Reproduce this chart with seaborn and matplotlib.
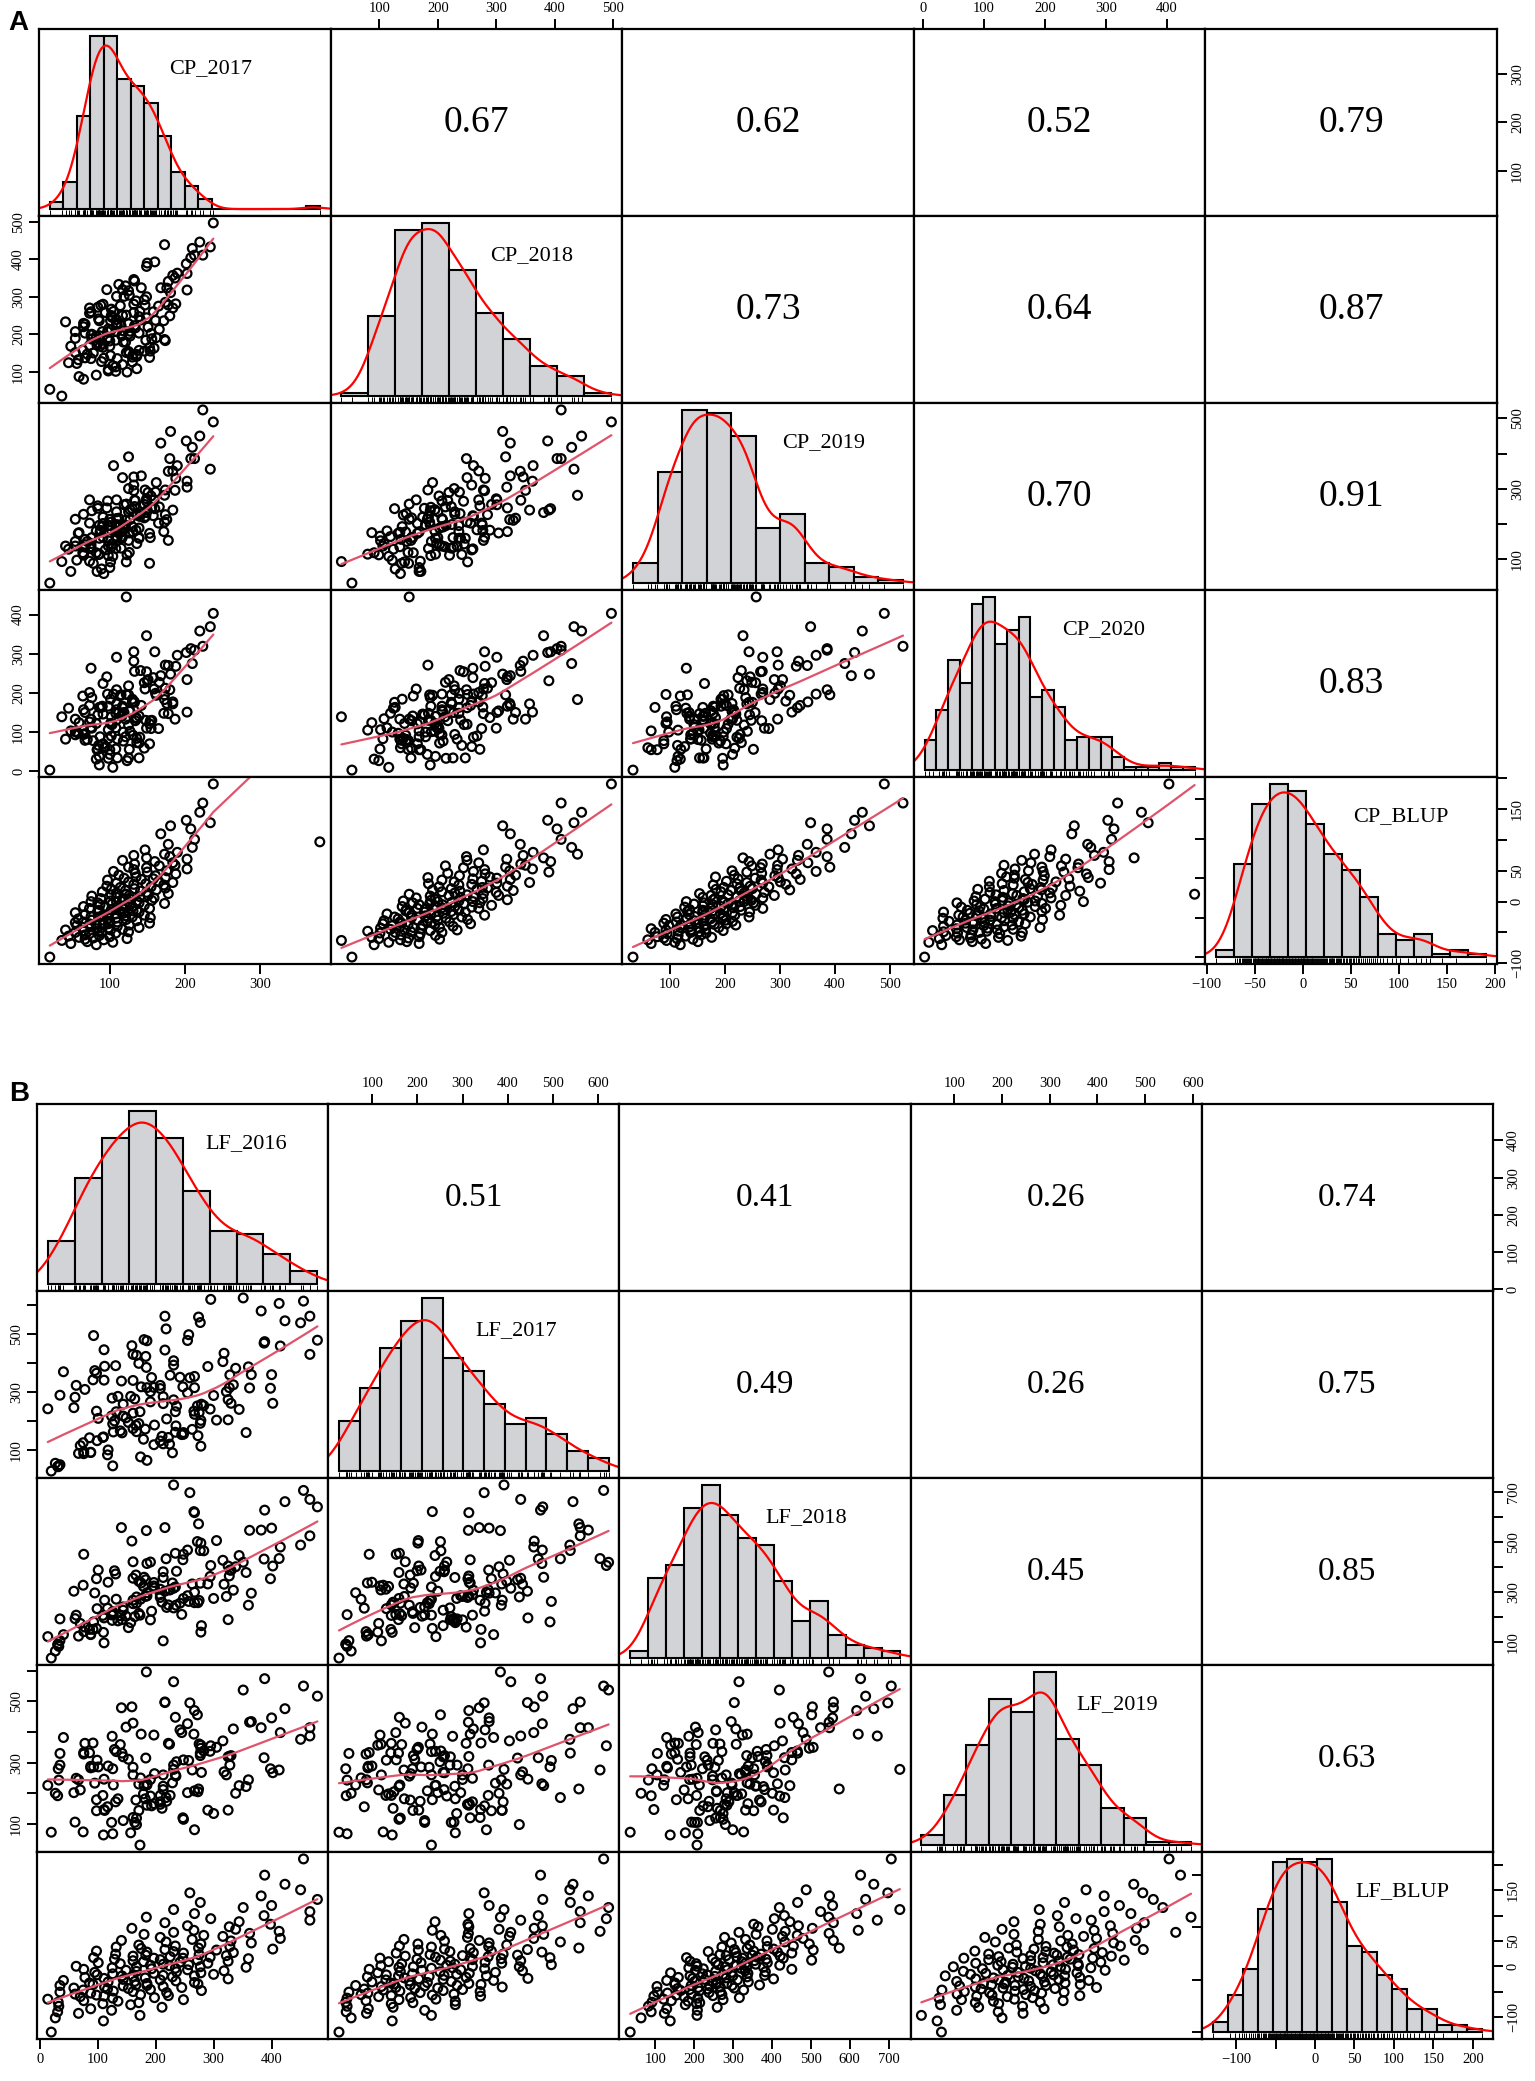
import numpy as np
import pandas as pd
import matplotlib
matplotlib.use("Agg")
import matplotlib.pyplot as plt
import seaborn as sns

sns.set_theme(style="white")
plt.rcParams["font.family"] = ["Liberation Serif", "DejaVu Serif"]
plt.rcParams["xtick.color"] = "black"
plt.rcParams["ytick.color"] = "black"
plt.rcParams["text.color"] = "black"
nan = np.nan

# ============================================================
# Panel A  - CP traits (values read off the scatter clouds)
# ============================================================
A_names = ["CP_2017", "CP_2018", "CP_2019", "CP_2020", "CP_BLUP"]
A_corr = [0.67, 0.62, 0.52, 0.79, 0.73, 0.64, 0.87, 0.70, 0.91, 0.83]

A_BLUP = [-90,
    -70, -68, -66, -65, -63, -62, -61, -60, -59, -58, -57, -56, -55, -54,
    -52, -51, -50, -50, -49, -48, -47, -46, -46, -45, -44, -43, -42, -42, -41, -40, -39, -38, -38, -37, -36, -36, -35, -34,
    -33, -33, -32, -31, -30, -30, -29, -28, -27, -27, -26, -25, -25, -24, -23, -22, -22, -21, -20, -20, -19, -18, -17, -17, -16, -15,
    -14, -14, -13, -12, -11, -11, -10, -9, -8, -8, -7, -6, -5, -5, -4, -3, -2, -2, -1, 0, 0, 1, 1, 2, 3,
    4, 5, 6, 7, 8, 9, 10, 10, 11, 12, 13, 14, 15, 16, 17, 18, 19, 20, 21, 22,
    23, 24, 25, 27, 28, 29, 30, 31, 32, 33, 35, 36, 37, 38, 39, 40,
    42, 43, 45, 46, 48, 49, 50, 52, 53, 55, 56, 58, 59,
    61, 63, 65, 67, 69, 71, 73, 75, 77,
    80, 84, 88, 93, 101, 110, 118, 123, 128, 132, 145, 160, 191,
    97]
A_2017 = [20,
    82, 48, 104, 70, 36, 92, 67, 123, 78, 59, 100, 45, 86, 67,
    73, 108, 54, 89, 125, 65, 86, 101, 41, 117, 83, 98, 64, 139, 75, 110, 56, 91, 126, 82, 98, 73, 153, 54,
    110, 65, 100, 136, 76, 91, 122, 58, 108, 98, 154, 85, 130, 75, 121, 91, 146, 67, 108, 98, 118, 54, 139, 84, 115, 131,
    86, 136, 102, 118, 73, 153, 109, 94, 130, 65, 116, 146, 87, 127, 103, 173, 84, 139, 109, 125, 75, 136, 101, 156, 117,
    127, 88, 159, 109, 140, 76, 126, 151, 102, 122, 178, 109, 149, 90, 141, 121, 162, 102, 133, 174,
    114, 155, 96, 172, 132, 148, 109, 184, 125, 165, 97, 142, 158, 119, 174, 135,
    161, 112, 188, 134, 150, 105, 176, 132, 203, 149, 125, 166, 187,
    133, 184, 160, 117, 203, 149, 180, 132, 173,
    190, 147, 210, 178, 213, 168, 208, 181, 234, 202, 220, 224, 238,
    380]
A_2018 = [53,
    91, 168, 116, 147, 35, 136, 203, 99, 150, 87, 168, 124, 196, 137,
    170, 101, 207, 127, 154, 80, 187, 143, 233, 119, 171, 102, 158, 203, 135, 226, 122, 174, 149, 195, 106, 256, 138, 189,
    135, 220, 182, 108, 200, 165, 251, 132, 184, 214, 155, 241, 126, 198, 179, 280, 155, 227, 113, 188, 209, 151, 247, 177, 223, 145,
    236, 146, 212, 179, 270, 165, 207, 258, 139, 229, 196, 292, 168, 208, 245, 186, 272, 157, 224, 200, 260, 141, 236, 188, 319,
    195, 277, 163, 239, 261, 187, 304, 219, 250, 151, 278, 229, 300, 207, 238, 329, 191, 267, 223, 285,
    276, 202, 319, 236, 258, 184, 301, 357, 228, 275, 207, 324, 260, 301, 183, 289,
    237, 333, 281, 217, 390, 261, 323, 280, 362, 244, 316, 213, 350,
    342, 270, 393, 250, 318, 381, 249, 346, 439,
    363, 278, 429, 341, 411, 324, 404, 311, 433, 388, 446, 411, 497,
    nan]
A_2019 = [33,
    119, 66, 109, 151, 94, 60, 142, 113, 89, 176, 77, 129, 115, 157,
    95, 166, 138, 73, 154, 115, 197, 93, 138, 165, 66, 153, 119, 189, 136, 162, 98, 220, 120, 181, 138, 203, 89, 151,
    177, 112, 214, 145, 162, 202, 93, 174, 131, 196, 162, 114, 244, 145, 197, 163, 218, 135, 181, 111, 192, 214, 160, 245, 132, 178,
    160, 230, 136, 198, 269, 174, 216, 127, 193, 228, 160, 256, 178, 213, 144, 206, 252, 162, 199, 235, 130, 226, 196, 248, 179,
    241, 182, 269, 160, 222, 238, 175, 290, 206, 257, 154, 235, 272, 193, 230, 211, 318, 184, 250, 227,
    198, 280, 246, 179, 311, 222, 269, 240, 301, 203, 266, 337, 224, 255, 297, 183,
    291, 217, 330, 267, 240, 366, 213, 295, 322, 265, 391, 249, 296,
    268, 351, 244, 332, 305, 233, 386, 334, 282,
    366, 297, 418, 350, 386, 430, 386, 463, 356, 436, 450, 524, 490,
    nan]
A_2020 = [3,
    31, 103, 10, 81, 139, 60, 96, 27, 78, 124, 55, 161, 38, 79,
    126, 57, 93, 163, 34, 105, 16, 122, 82, 148, 55, 106, 192, 72, 133, 34, 100, 146, 56, 122, 83, 168, 70, 101,
    82, 157, 43, 134, 110, 70, 196, 97, 148, 33, 129, 66, 176, 112, 88, 224, 59, 150, 111, 166, 77, 133, 34, 144, 195, 92,
    163, 73, 139, 100, 201, 121, 157, 63, 184, 94, 140, 226, 88, 153, 119, 195, 56, 141, 172, 118, 263, 84, 184, 130, 166,
    102, 164, 210, 131, 87, 188, 154, 234, 120, 445, 147, 208, 110, 166, 257, 133, 194, 90, 176, 212,
    193, 109, 241, 148, 179, 130, 291, 172, 218, 109, 197, 168, 239, 150, 271, 137,
    199, 150, 268, 129, 231, 197, 173, 305, 151, 254, 195, 227, 133,
    255, 177, 305, 162, 234, 346, 208, 281, 183,
    296, 210, 275, 270, 309, 244, 313, 248, 369, 303, 358, 319, 403,
    nan]

# histogram bar heights on the diagonal (equal-width bins over each trait's range)
A_hist_2017 = [2, 8, 28, 52, 52, 39, 37, 32, 22, 11, 7, 3, 0, 0, 0, 0, 0, 0, 0, 1]
A_hist_2018 = [1, 24, 50, 52, 38, 25, 17, 9, 6, 1]
A_hist_2019 = [6, 34, 53, 52, 45, 17, 21, 6, 5, 2, 1]
A_hist_2020 = [9, 18, 33, 26, 50, 52, 38, 42, 46, 22, 24, 19, 9, 10, 10, 10, 4, 1, 1, 1, 2, 1, 1]
A_hist_BLUP = [2, 28, 46, 52, 50, 40, 31, 26, 18, 7, 5, 7, 1, 2, 1]

A_ticks = [[100, 200, 300], [100, 200, 300, 400, 500], [100, 200, 300, 400, 500],
           [0, 100, 200, 300, 400], [-100, -50, 0, 50, 100, 150, 200]]

# ============================================================
# Panel B  - LF traits
# ============================================================
B_names = ["LF_2016", "LF_2017", "LF_2018", "LF_2019", "LF_BLUP"]
B_corr = [0.51, 0.41, 0.26, 0.74, 0.49, 0.26, 0.75, 0.45, 0.85, 0.63]

B_BLUP = [-130,
    -108, -102, -97, -93,
    -90, -87, -84, -81, -79, -76, -74,
    -72, -71, -69, -68, -66, -65, -63, -62, -60, -59, -58, -57, -56, -55,
    -53, -52, -51, -50, -49, -48, -47, -46, -45, -44, -43, -42, -41, -40, -39, -38, -38, -37, -36, -35,
    -34, -33, -32, -31, -30, -29, -28, -27, -26, -25, -24, -23, -22, -21, -20, -19, -19, -18, -17, -16,
    -15, -14, -13, -12, -11, -10, -9, -8, -7, -6, -5, -4, -3, -2, -1, -1, 0, 1, 2, 3,
    4, 5, 6, 7, 8, 9, 10, 11, 12, 13, 14, 15, 16, 16, 17, 18, 19, 20, 21, 22,
    23, 24, 26, 27, 28, 29, 30, 32, 33, 34, 35, 36, 38, 39, 40,
    42, 44, 46, 48, 50, 51, 53, 55, 57, 59,
    61, 63, 65, 67, 69, 71, 73, 75, 78,
    80, 83, 86, 88, 91, 94, 97,
    100, 104, 108, 112, 116, 120, 126, 132, 139, 145, 151, 162, 180, 212]
B_2016 = [20,
    110, 27, 173, 67,
    31, 124, 88, 211, 33, 157, 109,
    171, 32, 135, 76, 248, 14, 126, 198, 70, 111, 222, 98, 174, 61,
    88, 219, 35, 161, 127, 279, 75, 191, 117, 153, 59, 245, 112, 213, 144, 185, 35, 166, 92, 273,
    185, 86, 267, 118, 164, 235, 41, 208, 144, 325, 111, 182, 78, 229, 161, 267, 142, 213, 99, 300,
    126, 197, 278, 95, 236, 167, 318, 149, 255, 76, 193, 234, 125, 356, 167, 277, 63, 224, 191, 257,
    213, 139, 290, 101, 242, 179, 325, 161, 272, 208, 129, 360, 197, 247, 93, 294, 225, 161, 322, 183,
    275, 131, 248, 334, 185, 231, 98, 305, 216, 402, 175, 274, 132, 328, 234,
    171, 278, 365, 218, 330, 141, 263, 415, 208, 316,
    283, 180, 362, 231, 413, 266, 338, 159, 327,
    255, 398, 216, 344, 466, 295, 184,
    387, 267, 466, 231, 351, 400, 277, 479, 382, 259, 450, 423, 388, 455]
B_2017 = [26,
    144, 53, 231, 87,
    42, 216, 91, 146, 44, 284, 142,
    190, 41, 284, 86, 159, 241, 44, 185, 114, 340, 142, 233, 75, 281,
    90, 206, 48, 339, 161, 257, 124, 300, 82, 194, 245, 152, 388, 120, 216, 63, 288, 184, 341, 148,
    314, 141, 222, 99, 275, 182, 369, 130, 257, 203, 445, 171, 308, 89, 226, 353, 158, 259, 131, 287,
    189, 315, 112, 373, 250, 162, 433, 210, 296, 93, 349, 231, 278, 159, 426, 191, 322, 119, 265, 497,
    283, 165, 387, 208, 350, 136, 273, 429, 251, 322, 199, 386, 117, 317, 494, 240, 357, 173, 300, 422,
    228, 390, 153, 324, 476, 272, 364, 202, 444, 260, 317, 558, 231, 358, 160,
    398, 201, 359, 517, 260, 337, 170, 458, 311, 404,
    252, 480, 313, 407, 605, 233, 381, 459, 314,
    477, 312, 561, 239, 429, 619, 384,
    468, 314, 561, 392, 624, 359, 539, 478, 579, 348, 538, 545, 473, 613]
B_2018 = [35,
    138, 63, 207, 123,
    89, 208, 129, 259, 82, 177, 206,
    214, 91, 184, 141, 274, 121, 209, 316, 174, 96, 248, 154, 271, 193,
    131, 238, 105, 267, 213, 165, 327, 188, 235, 157, 303, 210, 267, 104, 240, 297, 192, 368, 150, 257,
    284, 150, 257, 339, 201, 247, 129, 311, 227, 404, 196, 282, 159, 336, 253, 299, 189, 381, 233, 274,
    221, 338, 139, 296, 383, 255, 331, 203, 285, 451, 223, 320, 186, 378, 280, 335, 207, 308, 420, 262,
    358, 205, 332, 388, 255, 322, 189, 355, 502, 289, 385, 247, 324, 429, 180, 362, 309, 421, 282, 349,
    266, 372, 451, 307, 414, 236, 353, 506, 303, 404, 336, 573, 271, 388, 455,
    343, 496, 295, 433, 387, 558, 332, 480, 278, 427,
    465, 359, 547, 315, 434, 622, 401, 504, 364,
    468, 353, 558, 446, 671, 406, 546,
    432, 618, 525, 729, 419, 556, 466, 641, 548, 698, 488, 662, 628, 707]
B_2019 = [73,
    64, 200, 31, 244,
    192, 105, 288, 151, 243, 71, 193,
    144, 280, 182, 328, 115, 226, 68, 264, 211, 147, 363, 179, 250, 106,
    283, 174, 330, 121, 227, 268, 74, 245, 156, 311, 202, 398, 144, 260, 111, 227, 292, 178, 364, 205,
    161, 332, 208, 289, 105, 256, 382, 193, 319, 145, 246, 182, 363, 234, 285, 81, 331, 212, 308, 134,
    280, 166, 357, 233, 303, 119, 270, 416, 202, 333, 159, 260, 386, 222, 98, 323, 249, 360, 191, 307,
    223, 359, 145, 286, 407, 198, 319, 260, 456, 172, 343, 244, 390, 120, 286, 337, 193, 429, 260, 315,
    361, 172, 309, 410, 231, 292, 143, 350, 496, 267, 393, 214, 336, 292, 448,
    230, 347, 434, 186, 323, 479, 276, 398, 164, 371,
    338, 225, 432, 564, 276, 393, 200, 482, 320,
    427, 280, 498, 225, 387, 355, 596,
    316, 470, 414, 278, 537, 446, 331, 517, 414, 495, 376, 476, 574, 550]

B_hist_2016 = [13, 32, 44, 52, 44, 28, 16, 15, 9, 4]
B_hist_2017 = [15, 25, 37, 45, 52, 34, 30, 20, 14, 16, 11, 6, 4]
B_hist_2018 = [2, 24, 28, 45, 52, 43, 36, 34, 23, 11, 17, 7, 4, 3, 2]
B_hist_2019 = [3, 15, 30, 44, 40, 52, 32, 24, 11, 8, 1, 1]
B_hist_BLUP = [3, 11, 19, 37, 51, 52, 51, 52, 39, 26, 24, 17, 13, 7, 7, 2, 2, 1]

B_ticks = [[0, 100, 200, 300, 400], [100, 200, 300, 400, 500, 600],
           [100, 200, 300, 400, 500, 600, 700], [100, 200, 300, 400, 500, 600],
           [-100, -50, 0, 50, 100, 150, 200]]

# tick labels that R kept on crowded axes (others left blank)
A_shown_x = {}
A_shown_y = {2: [100, 300, 500], 4: [-100, 0, 50, 150]}
B_shown_x = {4: [-100, 0, 50, 100, 150, 200]}
B_shown_y = {1: [100, 300, 500], 2: [100, 300, 500, 700], 3: [100, 300, 500], 4: [-100, 0, 50, 150]}

HIST_COLOR = "#D1D3D6"
SMOOTH_COLOR = "#DF536B"
W, H = 1535, 2081


def lowess(x, y, f=2 / 3, iters=3):
    order = np.argsort(x)
    x, y = x[order], y[order]
    n = len(x)
    r = int(np.ceil(f * n))
    h = np.array([np.sort(np.abs(x - x[i]))[r - 1] for i in range(n)])
    h = np.maximum(h, 1e-9)
    w = np.clip(np.abs((x[:, None] - x[None, :]) / h[None, :]), 0.0, 1.0)
    w = (1 - w ** 3) ** 3
    fit = np.zeros(n)
    delta = np.ones(n)
    for _ in range(iters + 1):
        for i in range(n):
            wi = delta * w[:, i]
            sw, swx, swy = wi.sum(), (wi * x).sum(), (wi * y).sum()
            swxx, swxy = (wi * x * x).sum(), (wi * x * y).sum()
            det = sw * swxx - swx ** 2
            if abs(det) < 1e-9:
                fit[i] = swy / sw
            else:
                b = (sw * swxy - swx * swy) / det
                fit[i] = (swy - b * swx) / sw + b * x[i]
        resid = y - fit
        s = np.median(np.abs(resid))
        u = np.clip(resid / (6 * s), -1, 1)
        delta = (1 - u ** 2) ** 2
    return x, fit


def fmt(ticks, shown):
    out = []
    for t in ticks:
        if shown is None or t in shown:
            out.append(str(t).replace("-", "\u2212"))
        else:
            out.append("")
    return out


def draw_diag(ax, values, counts, name, lx):
    v = values.dropna().to_numpy(float)
    edges = np.linspace(v.min(), v.max(), len(counts) + 1)
    hd = pd.DataFrame({"mid": (edges[:-1] + edges[1:]) / 2, "n": np.asarray(counts, float)})
    sns.histplot(data=hd, x="mid", weights="n", bins=edges.tolist(), stat="density",
                 color=HIST_COLOR, edgecolor="black", linewidth=1.5, alpha=1, ax=ax)
    sns.kdeplot(data=hd, x="mid", weights="n", bw_method=0.3, cut=3, color="red",
                linewidth=1.6, ax=ax)
    top = max(max(p.get_height() for p in ax.patches), ax.lines[-1].get_ydata().max())
    sns.rugplot(x=v, height=0.03, color="black", linewidth=0.7, expand_margins=False, ax=ax)
    ax.set_ylim(-0.04 * top, 1.04 * top)
    ax.text(lx, 0.79, name, transform=ax.transAxes, ha="center", va="center", fontsize=16)


def draw_scatter(ax, xv, yv):
    sns.scatterplot(x=xv.to_numpy(float), y=yv.to_numpy(float), ax=ax, s=40, facecolor="none",
                    edgecolor="black", linewidth=1.6, legend=False)
    ok = (xv.notna() & yv.notna()).to_numpy()
    sx, sy = lowess(xv.to_numpy(float)[ok], yv.to_numpy(float)[ok])
    ax.plot(sx, sy, color=SMOOTH_COLOR, linewidth=1.6)


def style_labels(labels, ha):
    for lab in labels:
        lab.set_rotation(90)
        lab.set_va("center")
        lab.set_ha(ha)


def draw_panel(fig, box, names, cols, hists, corr, ticks, shown_x, shown_y, corr_size, label_x):
    left, right, top, bottom = box
    gs = fig.add_gridspec(5, 5, left=left, right=right, top=top, bottom=bottom, wspace=0, hspace=0)
    df = pd.DataFrame(dict(zip(names, cols)), dtype=float)
    lims = {}
    for n in names:
        lo, hi = df[n].min(), df[n].max()
        pad = 0.04 * (hi - lo)
        lims[n] = (lo - pad, hi + pad)
    upper = {}
    k = 0
    for i in range(5):
        for j in range(i + 1, 5):
            upper[(i, j)] = corr[k]
            k += 1

    for i in range(5):
        for j in range(5):
            ax = fig.add_subplot(gs[i, j])
            xn, yn = names[j], names[i]
            if i == j:
                draw_diag(ax, df[xn], hists[i], xn, label_x[i])
            elif i > j:
                draw_scatter(ax, df[xn], df[yn])
                ax.set_ylim(lims[yn])
            else:
                ax.text(0.5, 0.5, f"{upper[(i, j)]:.2f}", transform=ax.transAxes,
                        ha="center", va="center", fontsize=corr_size)
                ax.set_ylim(lims[yn])
            ax.set_xlabel("")
            ax.set_ylabel("")
            ax.tick_params(which="both", bottom=False, top=False, left=False, right=False,
                           labelbottom=False, labeltop=False, labelleft=False, labelright=False,
                           direction="out", length=7, width=1.4, labelsize=10.5, pad=3)
            for s in ax.spines.values():
                s.set_visible(True)
                s.set_color("black")
                s.set_linewidth(1.6)

            # outer axes alternate like R's pairs()
            if i == 4 and j % 2 == 0:
                ax.set_xticks(ticks[j], labels=fmt(ticks[j], shown_x.get(j)))
                ax.tick_params(axis="x", bottom=True, labelbottom=True)
            if i == 0 and j % 2 == 1:
                ax.set_xticks(ticks[j], labels=fmt(ticks[j], shown_x.get(j)))
                ax.tick_params(axis="x", top=True, labeltop=True)
            ax.set_xlim(lims[xn])
            if j == 0 and i % 2 == 1:
                ax.set_yticks(ticks[i], labels=fmt(ticks[i], shown_y.get(i)))
                ax.tick_params(axis="y", left=True, labelleft=True)
                ax.set_ylim(lims[yn])
                style_labels([t.label1 for t in ax.yaxis.get_major_ticks()], "right")
            if j == 4 and i % 2 == 0:
                tax = ax.twinx() if i == 4 else ax
                if i == 4:
                    for s in tax.spines.values():
                        s.set_visible(False)
                    tax.grid(False)
                tax.set_yticks(ticks[i], labels=fmt(ticks[i], shown_y.get(i)))
                tax.tick_params(axis="y", which="both", left=False, labelleft=False,
                                right=True, labelright=True, direction="out",
                                length=7, width=1.4, labelsize=10.5, pad=3)
                tax.set_ylim(lims[yn])
                style_labels([t.label2 for t in tax.yaxis.get_major_ticks()], "left")


fig = plt.figure(figsize=(W / 100, H / 100), dpi=100)
fig.patch.set_facecolor("white")

draw_panel(fig, (39 / W, 1497 / W, 1 - 29 / H, 1 - 964 / H), A_names,
           [A_2017, A_2018, A_2019, A_2020, A_BLUP],
           [A_hist_2017, A_hist_2018, A_hist_2019, A_hist_2020, A_hist_BLUP],
           A_corr, A_ticks, A_shown_x, A_shown_y, 27, [0.59, 0.69, 0.69, 0.65, 0.67])
draw_panel(fig, (37 / W, 1493 / W, 1 - 1104 / H, 1 - 2039 / H), B_names,
           [B_2016, B_2017, B_2018, B_2019, B_BLUP],
           [B_hist_2016, B_hist_2017, B_hist_2018, B_hist_2019, B_hist_BLUP],
           B_corr, B_ticks, B_shown_x, B_shown_y, 24, [0.72, 0.645, 0.64, 0.71, 0.69])

fig.text(8 / W, 1 - 30 / H, "A", fontsize=20, fontweight="bold",
         family=["Liberation Sans", "DejaVu Sans"], va="baseline")
fig.text(9 / W, 1 - 1101 / H, "B", fontsize=20, fontweight="bold",
         family=["Liberation Sans", "DejaVu Sans"], va="baseline")

fig.savefig("out.png", dpi=100, facecolor="white")
